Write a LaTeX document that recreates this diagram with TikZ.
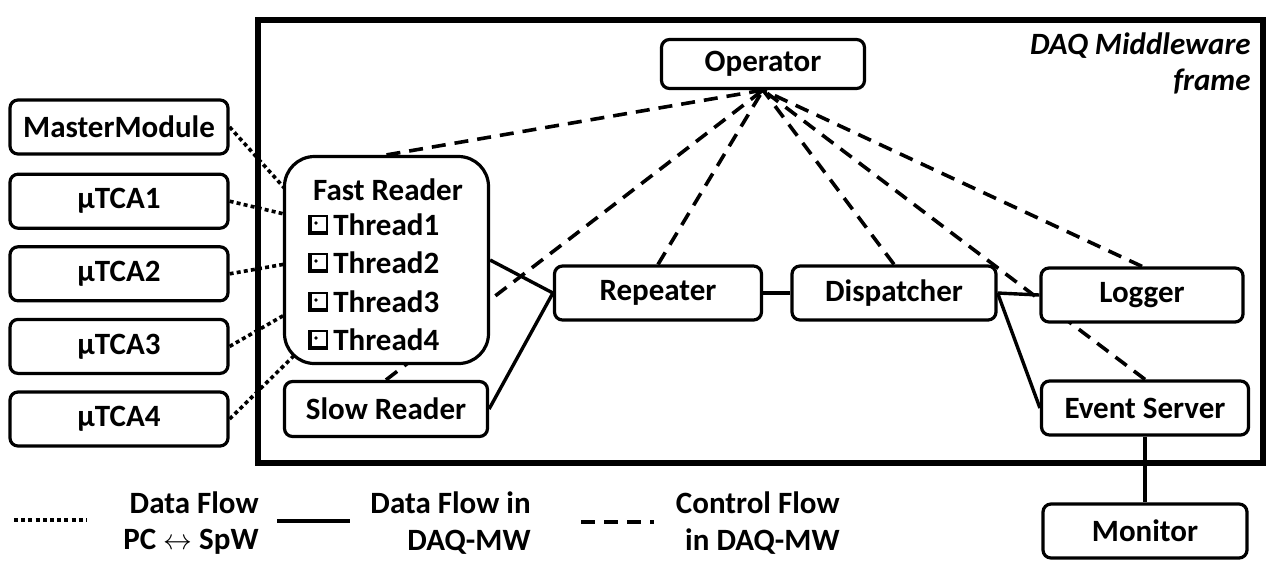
\documentclass[tikz,border=0pt]{standalone}
\usepackage{fontspec}
\setmainfont{Carlito}
\usetikzlibrary{positioning, calc, backgrounds}

\begin{document}
\begin{tikzpicture}[
    x=0.5pt, y=-0.5pt,
    box/.style={rectangle, draw=black, fill=white, line width=1.6pt, rounded corners=4pt, minimum width=102pt, minimum height=27pt, inner sep=0pt, align=center, font=\bfseries\fontsize{15.5}{18}\selectfont},
    srcbox/.style={box, minimum width=109pt},
    readerbox/.style={box, rounded corners=15pt, minimum width=102pt, minimum height=103.5pt},
    thrbox/.style={rectangle, draw=black, line width=0.9pt, minimum size=9pt, inner sep=0pt,
        path picture={\draw[line width=2.6pt] (path picture bounding box.north west) |- (path picture bounding box.south east);
                      \fill ($(path picture bounding box.center)+(-2,-2)$) circle (0.9pt);}},
    lbl/.style={inner sep=0pt, font=\bfseries\fontsize{15.5}{18}\selectfont},
    dataline/.style={line width=1.8pt, dash pattern=on 2pt off 1.6pt},
    mwline/.style={line width=1.7pt},
    ctrlline/.style={line width=1.8pt, dash pattern=on 7pt off 4.5pt}
]
    \useasboundingbox (0,0) rectangle (1277,586);

    % DAQ Middleware frame
    \draw[line width=2.8pt] (258,20) rectangle (1263,463);
    \node[lbl, anchor=north east, align=right, font=\bfseries\itshape\fontsize{15.5}{18}\selectfont] (mwname) at (1251,32) {DAQ Middleware\\frame};

    % PC side
    \node[srcbox] (master) at (119,127) {MasterModule};
    \node[srcbox, below=8.5pt of master] (mtca1) {μTCA1};
    \node[srcbox, below=7.7pt of mtca1] (mtca2) {μTCA2};
    \node[srcbox, below=7.7pt of mtca2] (mtca3) {μTCA3};
    \node[srcbox, below=7.7pt of mtca3] (mtca4) {μTCA4};

    % Readers
    \node[readerbox] (fastrd) at (386.5,260) {};
    \node[lbl] (fasttitle) at (388,190) {Fast Reader};
    \node[thrbox] (cb1) at (318,225) {};
    \node[thrbox] (cb2) at (318,263) {};
    \node[thrbox] (cb3) at (318,302) {};
    \node[thrbox] (cb4) at (318,340) {};
    \node[lbl, right=2.5pt of cb1] (thr1) {Thread1};
    \node[lbl, right=2.5pt of cb2] (thr2) {Thread2};
    \node[lbl, right=2.5pt of cb3] (thr3) {Thread3};
    \node[lbl, right=2.5pt of cb4] (thr4) {Thread4};
    \node[box, minimum width=101.5pt, minimum height=27.5pt] (slowrd) at (386,409) {Slow Reader};

    % DAQ-MW components
    \node[box, minimum width=101.5pt, minimum height=24.5pt] (oper) at (763,64) {Operator};
    \node[box, minimum width=103.5pt] (repeater) at (658,293) {Repeater};
    \node[box] (dispatcher) at (894,293) {Dispatcher};
    \node[box, minimum width=101pt] (logger) at (1142,295) {Logger};
    \node[box, minimum width=103.5pt] (evsrv) at (1145,408) {Event Server};
    \node[box] (monitor) at (1145,531) {Monitor};

    % Connections
    \begin{scope}[on background layer]
        \draw[dataline] (master.east) -- ($(cb1.center)+(-4,-4)$);
        \draw[dataline] (mtca1.east) -- ($(cb1.center)+(-4,-4)$);
        \draw[dataline] (mtca2.east) -- ($(cb2.center)+(-4,-4)$);
        \draw[dataline] (mtca3.east) -- ($(cb3.center)+(-4,-4)$);
        \draw[dataline] (mtca4.east) -- ($(cb4.center)+(-4,-4)$);

        \draw[mwline] (fastrd.east) -- (repeater.west);
        \draw[mwline] (slowrd.east) -- (repeater.west);
        \draw[mwline] (repeater.east) -- (dispatcher.west);
        \draw[mwline] (dispatcher.east) -- (logger.west);
        \draw[mwline] (dispatcher.east) -- (evsrv.west);
        \draw[mwline] (evsrv.south) -- (monitor.north);

        \draw[ctrlline] (fastrd.north) -- (oper.south);
        \draw[ctrlline] (slowrd.north) -- (oper.south);
        \draw[ctrlline] (repeater.north) -- (oper.south);
        \draw[ctrlline] (dispatcher.north) -- (oper.south);
        \draw[ctrlline] (logger.north) -- (oper.south);
        \draw[ctrlline] (evsrv.north) -- (oper.south);
    \end{scope}

    % Legend
    \coordinate (lgdata1) at (14,520);
    \coordinate (lgdata2) at (87,520);
    \coordinate (lgmw1) at (277,521);
    \coordinate (lgmw2) at (350,521);
    \coordinate (lgctrl1) at (581,522);
    \coordinate (lgctrl2) at (654,522);
    \draw[dataline] (lgdata1) -- (lgdata2);
    \draw[line width=2pt] (lgmw1) -- (lgmw2);
    \draw[ctrlline] (lgctrl1) -- (lgctrl2);
    \node[lbl, anchor=east] (lgdatatxt1) at (259,503) {Data Flow};
    \node[lbl, anchor=east] (lgdatatxt2) at (259,542) {PC $\leftrightarrow$ SpW};
    \node[lbl, anchor=east] (lgmwtxt1) at (531,503) {Data Flow in};
    \node[lbl, anchor=east] (lgmwtxt2) at (531,542) {DAQ-MW};
    \node[lbl, anchor=east] (lgctrltxt1) at (840,503) {Control Flow};
    \node[lbl, anchor=east] (lgctrltxt2) at (840,542) {in DAQ-MW};
\end{tikzpicture}
\end{document}
